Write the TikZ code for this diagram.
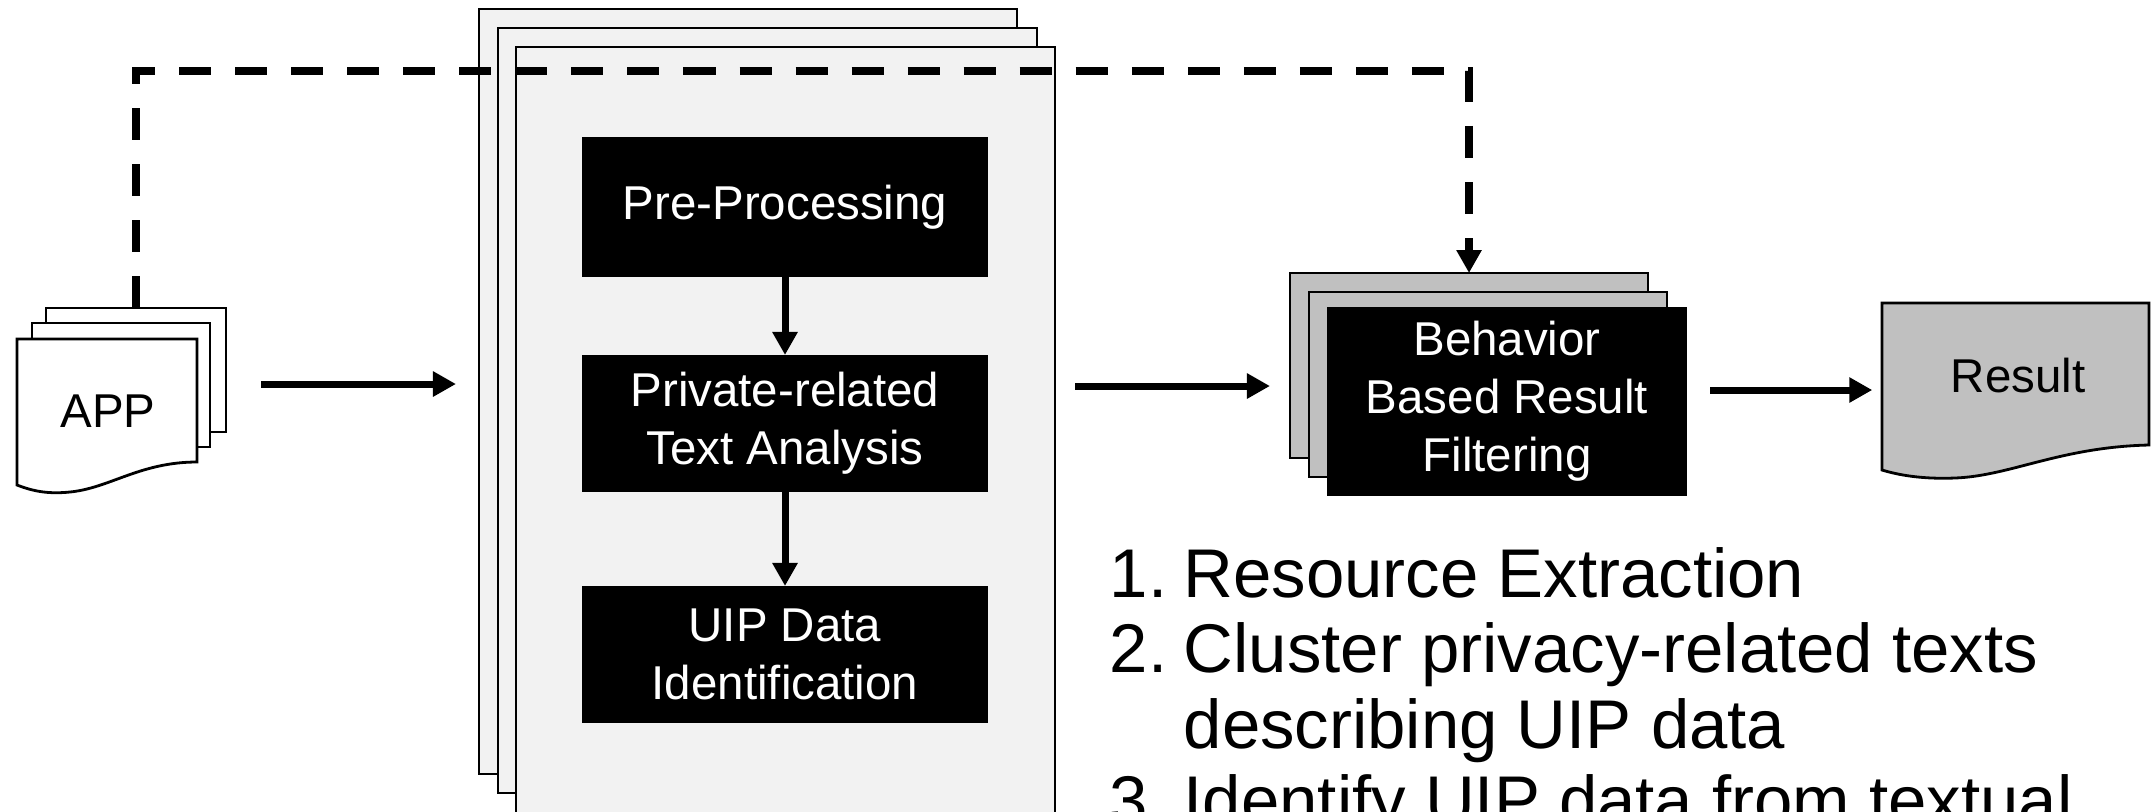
\documentclass[tikz,border=0pt]{standalone}
\usepackage{fontspec}
\setmainfont{Liberation Sans}
\usetikzlibrary{arrows.meta,fit}
\definecolor{pagegray}{HTML}{F2F2F2}
\definecolor{filtergray}{HTML}{C0C0C0}
\begin{document}
\begin{tikzpicture}[x=0.01cm,y=-0.01cm,
  sheet/.style={draw, line width=0.028cm, inner sep=0pt, outer sep=0pt},
  procbox/.style={rectangle, fill=black, text=white, inner sep=0pt, outer sep=0pt, align=center,
    font=\fontsize{13.5pt}{16.5pt}\selectfont},
  label text/.style={inner sep=0pt, font=\fontsize{13.5pt}{16.5pt}\selectfont},
  flow/.style={line width=0.07cm, -{Triangle[length=0.23cm,width=0.24cm]}},
  guide/.style={line width=0.08cm, dash pattern=on 0.32cm off 0.24cm,
    -{Triangle[length=0.23cm,width=0.24cm]}},
]
\clip (0,0) rectangle (2152,811);

% --- APP document stack ---
\node[sheet, fill=white, fit={(46,308)(226,432)}] (appback) {};
\node[sheet, fill=white, fit={(32,323)(210,447)}] (appmid) {};
\path[sheet, fill=white] (17,339) -- (197,339) -- (197,462)
  .. controls (140,462) and (110,488) .. (70,492)
  .. controls (50,494) and (35,492) .. (17,485) -- cycle;
\node[fit={(17,339)(197,462)}, inner sep=0pt] (appfront) {};
\node[label text] (apptext) at (108,411) {APP};

% --- analysis stack ---
\node[sheet, fill=pagegray, fit={(479,9)(1017,774)}] (stkback) {};
\node[sheet, fill=pagegray, fit={(498,28)(1037,793)}] (stkmid) {};
\node[sheet, fill=pagegray, fit={(516,47)(1055,840)}] (stkfront) {};

\node[procbox, minimum width=4.06cm, minimum height=1.40cm] (pre) at (785,207) {Pre-Processing};
\node[procbox, minimum width=4.06cm, minimum height=1.37cm] (priv) at (785,423.5) {Private-related\\Text Analysis};
\node[procbox, minimum width=4.06cm, minimum height=1.37cm] (uip) at (785,654.5) {UIP Data\\Identification};
\draw[flow] (pre.south) -- (priv.north);
\draw[flow] (priv.south) -- (uip.north);

% --- filtering stack ---
\node[sheet, fill=filtergray, fit={(1290,273)(1648,458)}] (bhback) {};
\node[sheet, fill=filtergray, fit={(1309,292)(1667,477)}] (bhmid) {};
\node[procbox, minimum width=3.60cm, minimum height=1.89cm] (bhfront) at (1507,401.5) {Behavior\\Based Result\\Filtering};

% --- result document ---
\path[sheet, fill=filtergray] (1882,303) -- (2149,303) -- (2149,445)
  .. controls (2060,447) and (2010,476) .. (1955,478)
  .. controls (1930,479) and (1905,477) .. (1882,470) -- cycle;
\node[fit={(1882,303)(2149,445)}, inner sep=0pt] (res) {};
\node[label text] (restext) at (2018,376) {Result};

% --- connectors ---
\coordinate (bend) at (1469,71);
\draw[guide] (appback.north) |- (bend) -| (bhback.north);
\draw[flow, shorten <=0.35cm, shorten >=0.23cm] (appback.east |- 0,384) -- (stkback.west |- 0,384);
\draw[flow, shorten <=0.2cm, shorten >=0.2cm] (stkfront.east |- 0,386) -- (bhback.west |- 0,386);
\draw[flow, shorten <=0.23cm, shorten >=0.09cm] (bhfront.east |- 0,390) -- (res.west |- 0,390);

% --- step list ---
\node[anchor=base west, inner sep=0pt, font=\fontsize{19.6pt}{21.6pt}\selectfont] (steps) at (1109,597)
  {\renewcommand\arraystretch{1}\begin{tabular}[t]{@{}p{0.74cm}@{}l@{}}
   1. & Resource Extraction\\
   2. & Cluster privacy-related texts\\
      & describing UIP data\\
   3. & Identify UIP data from textual
   \end{tabular}};
\end{tikzpicture}
\end{document}
